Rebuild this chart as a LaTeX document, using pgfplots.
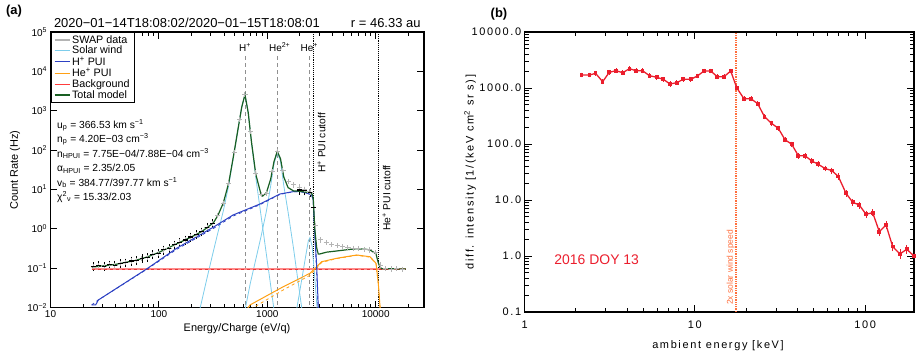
\documentclass[border=0pt]{standalone}
\usepackage{fontspec}
\setmainfont{Liberation Sans}
\newfontfamily\spaced[LetterSpace=15]{Liberation Sans}
\usepackage{pgfplots}
\pgfplotsset{compat=1.18}
\usepackage{pgfplotstable}

\definecolor{swblue}{RGB}{125,205,235}
\definecolor{puiblue}{RGB}{45,65,195}
\definecolor{puiorange}{RGB}{255,160,20}
\definecolor{bgred}{RGB}{255,60,60}
\definecolor{totgreen}{RGB}{25,95,35}
\definecolor{datagray}{RGB}{180,180,180}
\definecolor{bred}{RGB}{235,30,45}
\definecolor{swline}{RGB}{255,110,60}

% ---------- panel (a) ----------
\pgfplotstableread{
E y
220.8 0.00355
247.7 0.0141
278.0 0.0562
311.9 0.214
349.9 0.794
392.6 2.82
440.6 12.6
494.3 85.1
542.0 398
580.8 1230
622.3 2570
666.8 891
714.5 158
783.4 20.0
879.0 2.0
986.3 0.2
1106.6 0.02
1241.7 0.002
}\swH
\pgfplotstableread{
E y
552.1 0.00158
619.4 0.0079
695.0 0.0398
779.8 0.158
875.0 0.631
981.7 2.82
1076 12.6
1153 44.7
1236 85.1
1324 52.5
1419 12.6
1556 2.63
1746 0.316
1959 0.0316
2198 0.00316
}\swHeII
\pgfplotstableread{
E y
1714 0.0025
1879 0.01
2061 0.0447
2259 0.2
2393 0.5
2477 0.6
2594 0.355
2716 0.0794
2877 0.01
3048 0.0016
}\swHeI
\pgfplotstableread{
E y
24.0 0.0116
26.1 0.0116
27.6 0.0155
77.1 0.0953
145.8 0.32
318 1.1
483 2.24
857 4.27
1310 7.66
1727 8.77
2003 8.9
2307 8.1
2570 7.2
2655 5.4
2754 0.63
2857 0.109
2951 0.0105
2999 0.005
}\puiH
\pgfplotstableread{
E y
24.0 0.0116
27.6 0.0155
77.1 0.093
145.8 0.30
318 1.02
483 2.1
857 4.1
1310 7.5
1727 8.7
2003 8.85
2307 8.1
2570 7.1
2655 5.0
2754 0.5
2857 0.08
2951 0.008
}\puiHd
\pgfplotstableread{
E y
650 0.009
692 0.0116
1405 0.0338
2478 0.074
2857 0.109
3177 0.146
4367 0.178
6677 0.216
8855 0.195
10070 0.133
10570 0.041
10960 0.0105
11200 0.005
}\puiHe
\pgfplotstableread{
E y
700 0.009
1405 0.028
2478 0.066
2857 0.10
3177 0.14
4367 0.175
6677 0.212
8855 0.19
10070 0.13
10570 0.04
10960 0.01
11200 0.005
}\puiHed
\pgfplotstableread{
E y
24.0 0.107
27.6 0.110
40 0.125
60 0.156
77.1 0.190
100 0.251
145.8 0.415
200 0.622
250 0.86
318 1.41
350 2.18
392.6 4.49
440.6 14.6
494.3 87.5
542 400.6
580.8 1233
622.3 2573
666.8 894
714.5 161.6
783.4 24.1
879 7.17
907 6.8
981.7 8.27
1076 18.6
1153 51.2
1236 92.3
1324 60.3
1419 20.7
1556 11.1
1746 9.18
1959 9.02
2061 8.87
2259 8.52
2393 8.45
2477 8.27
2594 7.6
2655 5.78
2716 1.67
2754 0.87
2857 0.323
2951 0.23
3064 0.23
3530 0.255
4367 0.273
5797 0.30
6677 0.311
8260 0.30
8855 0.29
9860 0.24
10070 0.228
10570 0.136
10960 0.1055
11360 0.097
19000 0.095
}\total
\pgfplotstableread{
E y
24.8 0.11
27.8 0.116
31.2 0.112
35.0 0.121
39.3 0.119
44.1 0.13
49.4 0.137
55.5 0.152
62.2 0.156
69.8 0.178
78.3 0.185
87.9 0.222
98.6 0.24
111 0.29
124 0.32
139 0.39
156 0.46
175 0.52
197 0.62
221 0.71
248 0.84
278 1.1
312 1.38
350 2.2
393 4.3
441 14
494 85
555 590
622 2620
698 300
783 26
879 7.5
986 7.8
1107 28
1242 94
1393 30
1563 16
1754 13
1968 11.5
2208 9.8
2477 8.6
2780 1.2
3119 0.52
3499 0.45
3926 0.40
4406 0.37
4943 0.35
5546 0.33
6223 0.32
6982 0.31
7834 0.30
8790 0.29
9863 0.25
11066 0.12
12417 0.098
13932 0.095
15631 0.096
17539 0.094
}\swap
\pgfplotstableread{
E y
24.8 0.11
27.8 0.116
31.2 0.112
35.0 0.121
39.3 0.119
44.1 0.13
49.4 0.137
55.5 0.152
62.2 0.156
69.8 0.178
78.3 0.185
87.9 0.222
98.6 0.24
111 0.29
124 0.32
139 0.39
156 0.46
175 0.52
197 0.62
221 0.71
248 0.84
278 1.1
312 1.38
1968 9.7
2208 9.2
2477 8.3
2655 3.5
}\fitdata

% ---------- panel (b) ----------
\pgfplotstableread{
E I e
2.16 1706 60
2.40 1706 60
2.61 1828 65
2.87 1295 50
3.14 1905 65
3.44 2036 70
3.77 1876 65
4.12 2213 75
4.51 2036 70
4.93 2036 70
5.40 1660 60
5.97 1553 55
6.52 1430 50
7.14 1179 45
7.82 1244 45
8.55 1430 50
9.44 1430 50
10.34 1637 55
11.31 2014 70
12.38 2014 70
13.54 1592 55
14.83 1592 55
16.23 2014 70
17.61 1009 40
19.43 641 25
21.37 641 25
23.38 525 20
25.64 307 13
28.19 234 10
30.9 190.7 8
33.83 119.4 5
37.06 98.9 4.5
40.51 61.8 3
44.36 61.8 3
48.55 49.7 2.5
53.1 43.4 2.3
58.1 36.5 2
63.6 33.6 2
69.6 26.4 1.6
77.2 13.2 0.9
84.6 9.10 0.7
92.4 8.15 0.65
101.2 5.56 0.5
110.8 5.93 0.5
121.2 2.72 0.3
132.7 3.58 0.35
145.2 1.47 0.17
160.3 1.09 0.14
175.6 1.32 0.15
193.8 1.0 0.13
}\dataB

\begin{document}
\begin{tikzpicture}[x=1bp,y=1bp]
\useasboundingbox (0,0) rectangle (916,356);

\begin{axis}[
  at={(50.5bp,48.5bp)}, anchor=south west,
  width=373.5bp, height=275.5bp, scale only axis,
  xmode=log, ymode=log,
  xmin=10, xmax=27900, ymin=1e-2, ymax=1e5,
  axis line style={line width=1.1bp},
  tick align=inside,
  major tick length=7bp, minor tick length=4bp,
  every tick/.style={black, line width=0.9bp},
  xtick={10,100,1000,10000}, xticklabels={10,100,1000,10000},
  xminorticks=true,
  minor xtick={20,30,40,50,60,70,80,90,200,300,400,500,600,700,800,900,2000,3000,4000,5000,6000,7000,8000,9000,20000},
  ytick={1e-2,1e-1,1,10,100,1000,1e4,1e5},
  yticklabels={{10\textsuperscript{−2}},{10\textsuperscript{−1}},{10\textsuperscript{0}},{10\textsuperscript{1}},{10\textsuperscript{2}},{10\textsuperscript{3}},{10\textsuperscript{4}},{10\textsuperscript{5}}},
  yminorticks=false,
  tick label style={font=\fontsize{10}{12}\selectfont},
  legend style={at={(0,1)}, anchor=north west, draw=black, line width=0.8bp, fill=white,
     font=\fontsize{10.8}{11}\selectfont, inner xsep=3bp, inner ysep=1bp, row sep=-2.5bp,
     cells={anchor=west}},
  legend image code/.code={\draw[#1, line width=1.2bp] (0bp,0bp) -- (15bp,0bp);},
]
\addlegendimage{datagray}
\addlegendentry{SWAP data}
\addlegendimage{swblue}
\addlegendentry{Solar wind}
\addlegendimage{puiblue}
\addlegendentry{H\textsuperscript{+} PUI}
\addlegendimage{puiorange}
\addlegendentry{He\textsuperscript{+} PUI}
\addlegendimage{bgred}
\addlegendentry{Background}
\addlegendimage{totgreen}
\addlegendentry{Total model}

% vertical reference lines
\addplot[forget plot, datagray!80!black, dash pattern=on 4bp off 3bp, line width=0.8bp] coordinates {(622,2.4e4) (622,1e-2)};
\addplot[forget plot, datagray!80!black, dash pattern=on 4bp off 3bp, line width=0.8bp] coordinates {(1244,2.4e4) (1244,1e-2)};
\addplot[forget plot, datagray!80!black, dash pattern=on 4bp off 3bp, line width=0.8bp] coordinates {(2445,2.4e4) (2445,1e-2)};
\addplot[forget plot, black, densely dotted, line width=0.9bp] coordinates {(2657,1e5) (2657,1e-2)};
\addplot[forget plot, black, densely dotted, line width=0.9bp] coordinates {(10600,1e5) (10600,1e-2)};

% data
\addplot[forget plot, only marks, mark=+, mark size=2.6bp, datagray, line width=1bp] table[x=E,y=y] {\swap};
\addplot[forget plot, only marks, mark=-, mark size=2.4bp, black, line width=1.1bp,
  error bars/.cd, y dir=both, y explicit relative, error bar style={line width=0.9bp, black},
  error mark options={mark size=2bp, line width=0.9bp, black}]
  table[x=E,y=y,y error expr=0.14] {\fitdata};

% model components
\addplot[forget plot, swblue, line width=0.8bp] table[x=E,y=y] {\swH};
\addplot[forget plot, swblue, line width=0.8bp] table[x=E,y=y] {\swHeII};
\addplot[forget plot, swblue, line width=0.8bp] table[x=E,y=y] {\swHeI};
\addplot[forget plot, bgred!60, line width=1.6bp] coordinates {(24,0.095) (19000,0.095)};
\addplot[forget plot, bgred!90!black, dashed, line width=0.8bp] coordinates {(24,0.094) (19000,0.094)};
\addplot[forget plot, puiorange, line width=1bp] table[x=E,y=y] {\puiHe};
\addplot[forget plot, puiorange, dashed, line width=0.8bp] table[x=E,y=y] {\puiHed};
\addplot[forget plot, puiblue, line width=1bp] table[x=E,y=y] {\puiH};
\addplot[forget plot, puiblue, dashed, line width=0.8bp] table[x=E,y=y] {\puiHd};
\addplot[forget plot, totgreen, line width=1.2bp] table[x=E,y=y] {\total};

\node[font=\fontsize{10}{11}\selectfont, anchor=base] at (axis cs:622,3.2e4) {H\textsuperscript{+}};
\node[font=\fontsize{10}{11}\selectfont, anchor=base] at (axis cs:1300,3.2e4) {He\textsuperscript{2+}};
\node[font=\fontsize{10}{11}\selectfont, anchor=base] at (axis cs:2445,3.2e4) {He\textsuperscript{+}};
\end{axis}

% panel (a) texts
\node[font=\bfseries\fontsize{13}{14}\selectfont] at (14,345) {(a)};
\node[font=\fontsize{13}{14}\selectfont, anchor=base west] at (50.5,328.3) {2020−01−14T18:08:02/2020−01−15T18:08:01};
\node[font=\fontsize{13}{14}\selectfont, anchor=base east] at (424,328.3) {r = 46.33 au};
\node[font=\fontsize{11}{12}\selectfont, rotate=90] at (15,186) {Count Rate (Hz)};
\node[font=\fontsize{11}{12}\selectfont] at (237,27) {Energy/Charge (eV/q)};
\begin{scope}[font=\fontsize{10.3}{12}\selectfont, every node/.style={inner sep=0pt}]
\node[anchor=base west] at (57,228) {u\textsubscript{p} = 366.53 km s\textsuperscript{−1}};
\node[anchor=base west] at (57,213.5) {n\textsubscript{p} = 4.20E−03 cm\textsuperscript{−3}};
\node[anchor=base west] at (57,199) {n\textsubscript{HPUI} = 7.75E−04/7.88E−04 cm\textsuperscript{−3}};
\node[anchor=base west] at (57,184.5) {α\textsubscript{HPUI} = 2.35/2.05};
\node[anchor=base west] at (57,170) {v\textsubscript{b} = 384.77/397.77 km s\textsuperscript{−1}};
\node[anchor=base west] at (57,155.5) {χ\textsuperscript{2}\textsubscript{ν} = 15.33/2.03};
\node[rotate=90] at (321.5,213) {H\textsuperscript{+} PUI cutoff};
\node[rotate=90] at (386.5,158) {He\textsuperscript{+} PUI cutoff};
\end{scope}

% ---------- panel (b) ----------
\begin{axis}[
  at={(524.7bp,44bp)}, anchor=south west,
  width=389.3bp, height=280bp, scale only axis,
  xmode=log, ymode=log,
  xmin=1, xmax=193.8, ymin=0.1, ymax=1e4,
  axis line style={line width=1.1bp},
  tick align=inside,
  major tick length=7bp, minor tick length=4bp,
  every tick/.style={black, line width=0.9bp},
  xtick={1,10,100}, xticklabels={1,10,100},
  xminorticks=true, yminorticks=true,
  minor xtick={2,3,4,5,6,7,8,9,20,30,40,50,60,70,80,90},
  ytick={0.1,1,10,100,1000,10000},
  yticklabels={0.1,1.0,10.0,100.0,1000.0,10000.0},
  minor ytick={0.2,0.3,0.4,0.5,0.6,0.7,0.8,0.9,2,3,4,5,6,7,8,9,20,30,40,50,60,70,80,90,200,300,400,500,600,700,800,900,2000,3000,4000,5000,6000,7000,8000,9000},
  tick label style={font=\spaced\fontsize{11}{12}\selectfont},
  xticklabel style={yshift=-5bp},
]
\addplot[swline, densely dotted, line width=1.3bp] coordinates {(17.4,0.1) (17.4,1e4)};
\addplot[bred, line width=1.3bp, mark=square*, mark size=1.2bp,
  error bars/.cd, y dir=both, y explicit, error bar style={line width=0.8bp},
  error mark options={mark size=1.6bp, line width=0.8bp}]
  table[x=E,y=I,y error=e] {\dataB};
\end{axis}

\node[font=\bfseries\fontsize{13}{14}\selectfont] at (499,342) {(b)};
\node[font=\fontsize{14}{15}\selectfont, text=bred] at (596.7,96.7) {2016 DOY 13};
\node[font=\fontsize{8.5}{9}\selectfont, text=swline, rotate=90, anchor=west] at (730.7,47.5) {2x solar wind speed};
\node[font=\spaced\fontsize{11}{12}\selectfont] at (718,10) {ambient energy [keV]};
\node[font=\spaced\fontsize{11}{12}\selectfont, rotate=90] at (470,184) {diff. intensity [1/(keV cm\textsuperscript{2} sr s)]};
\end{tikzpicture}
\end{document}
